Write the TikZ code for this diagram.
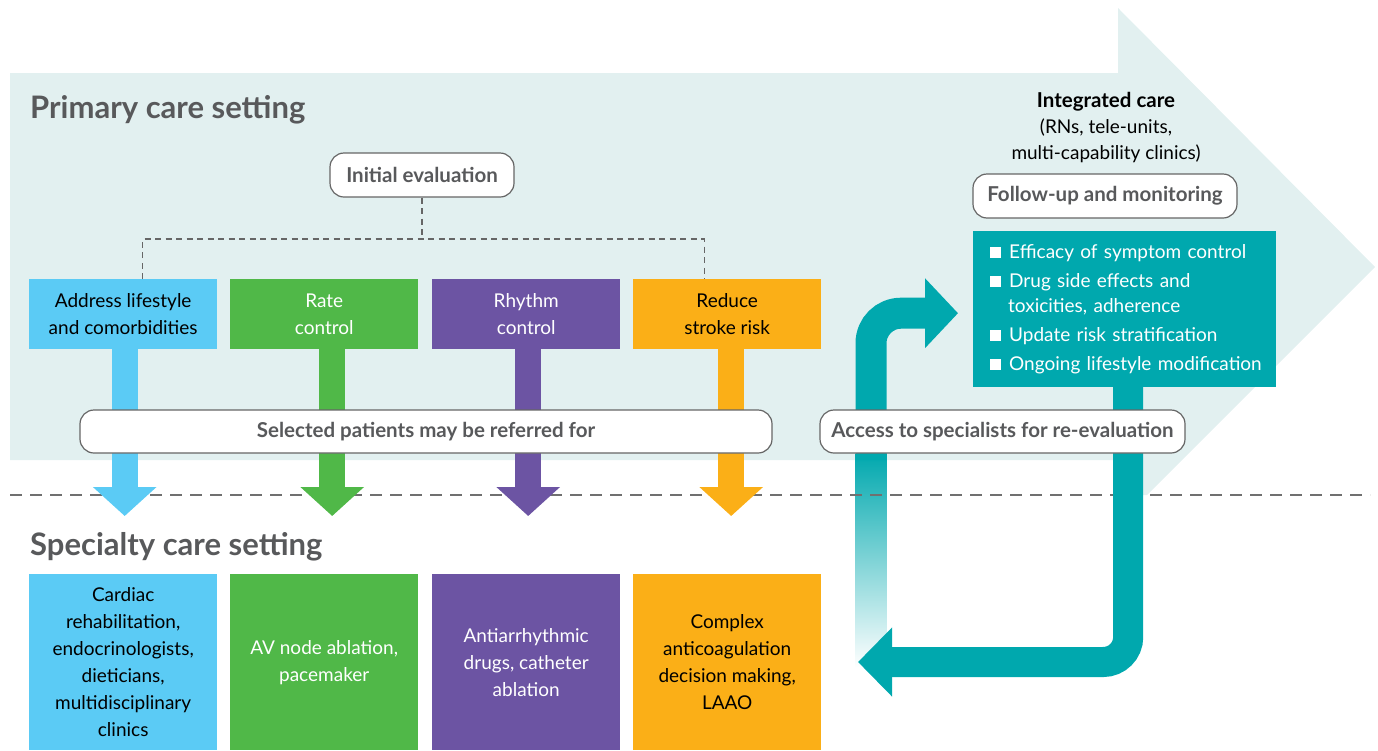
\documentclass[tikz,border=0pt]{standalone}
\usepackage{fontspec}
\setmainfont{Lato}
\usetikzlibrary{arrows.meta,calc}
\definecolor{bgc}{HTML}{E2F0F0}
\definecolor{cblue}{HTML}{5BCBF5}
\definecolor{cgreen}{HTML}{50B848}
\definecolor{cpurple}{HTML}{6C54A3}
\definecolor{corange}{HTML}{FBAF17}
\definecolor{cteal}{HTML}{00A8AE}
\definecolor{graytxt}{HTML}{58595B}
\definecolor{linec}{HTML}{666666}
\definecolor{dashc}{HTML}{707070}
\begin{document}
\begin{tikzpicture}[x=1pt,y=-1pt,
  colbox/.style={minimum width=188pt, minimum height=70pt, inner sep=0pt, align=center,
    font=\fontsize{19}{27}\selectfont, anchor=north west},
  spbox/.style={colbox, minimum height=176pt},
  pill/.style={draw=linec, line width=1.2pt, fill=white, rounded corners=14pt,
    font=\bfseries\fontsize{20.5}{22}\selectfont, text=graytxt, inner sep=0pt},
  downarrow/.style={line width=26pt, -{Triangle[width=62pt,length=29pt]}},
  treedash/.style={draw=linec, line width=1.3pt, dash pattern=on 6pt off 4.5pt},
  header/.style={font=\bfseries\fontsize{31}{34}\selectfont, text=graytxt, anchor=base west, inner sep=0pt}]
\useasboundingbox (0,0) rectangle (1378,750);
% background arrow
\fill[bgc] (10,73) -- (1118,73) -- (1118,8) -- (1375,267) -- (1147,495) -- (1118,495) -- (1118,460) -- (10,460) -- cycle;
% gradient part of return shaft
\shade[top color=cteal, bottom color=white] (855.5,453) rectangle (886.5,668);
% separator
\draw[dashc, line width=1.5pt, dash pattern=on 12pt off 8pt] (10,495) -- (1370,495);
% headers
\node[header] (h1) at (30,118) {Primary care setting};
\node[header] (h2) at (30,555) {Specialty care setting};
% initial evaluation
\node[pill, minimum width=184pt, minimum height=44pt] (ie) at (422,175) {Initial evaluation};
% top boxes
\node[colbox, fill=cblue, text=black] (t1) at (29,279) {Address lifestyle\\and comorbidities};
\node[colbox, fill=cgreen, text=white] (t2) at (230,279) {Rate\\control};
\node[colbox, fill=cpurple, text=white] (t3) at (432,279) {Rhythm\\control};
\node[colbox, fill=corange, text=black] (t4) at (633,279) {Reduce\\stroke risk};
% tree
\draw[treedash] (ie.south) -- ++(0,42);
\draw[treedash] ($(t1.north)+(19.5,0)$) -- ++(0,-40) -| ($(t4.north)+(-23,0)$);
% bottom boxes
\node[spbox, fill=cblue, text=black] (s1) at (29,574) {Cardiac\\rehabilitation,\\endocrinologists,\\dieticians,\\multidisciplinary\\clinics};
\node[spbox, fill=cgreen, text=white] (s2) at (230,574) {AV node ablation,\\pacemaker};
\node[spbox, fill=cpurple, text=white] (s3) at (432,574) {Antiarrhythmic\\drugs, catheter\\ablation};
\node[spbox, fill=corange, text=black] (s4) at (633,574) {Complex\\anticoagulation\\decision making,\\LAAO};
% down arrows
\draw[downarrow, cblue] ($(t1.south)+(1.5,0)$) -- ($(s1.north)+(1.5,-58)$);
\draw[downarrow, cgreen] ($(t2.south)+(8,0)$) -- ($(s2.north)+(8,-58)$);
\draw[downarrow, cpurple] ($(t3.south)+(2,0)$) -- ($(s3.north)+(2,-58)$);
\draw[downarrow, corange] ($(t4.south)+(4,0)$) -- ($(s4.north)+(4,-58)$);
\node[pill, minimum width=692pt, minimum height=43pt] (sel) at (426,431.5) {Selected patients may be referred for};
% right side
\node[align=center, font=\fontsize{19}{26}\selectfont, text=black] (ic) at (1106,128) {{\bfseries\fontsize{20.5}{26}\selectfont Integrated care}\\(RNs, tele-units,\\multi-capability clinics)};
\node[pill, minimum width=264pt, minimum height=44pt] (fu) at (1105,196) {Follow-up and monitoring};
\node[anchor=north west, fill=cteal, text=white, minimum width=303pt, minimum height=156pt,
  text width=275pt, inner xsep=14pt, inner ysep=0pt, align=left, font=\fontsize{19}{25}\selectfont] (tb) at (973,231)
  {\hspace{3pt}\rule{11pt}{11pt}\hspace{8pt}Efficacy of symptom control\\[4pt]
   \hspace{3pt}\rule{11pt}{11pt}\hspace{8pt}Drug side effects and\\
   \hspace{21pt}toxicities, adherence\\[4pt]
   \hspace{3pt}\rule{11pt}{11pt}\hspace{8pt}Update risk stratification\\[4pt]
   \hspace{3pt}\rule{11pt}{11pt}\hspace{8pt}Ongoing lifestyle modification};
\coordinate (ret) at (858,662);
\coordinate (upstart) at (871,460);
\draw[cteal, line width=31pt, rounded corners=30pt, -{Triangle[width=68pt,length=33pt]}] (upstart) |- ($(tb.west)+(-15,4)$);
\draw[cteal, line width=30pt, rounded corners=25pt, -{Triangle[width=67pt,length=34pt]}] ($(tb.south)+(3.5,-2)$) |- (ret);
\node[pill, minimum width=365pt, minimum height=43pt] (acc) at (1002.5,431.5) {Access to specialists for re-evaluation};
\end{tikzpicture}
\end{document}
